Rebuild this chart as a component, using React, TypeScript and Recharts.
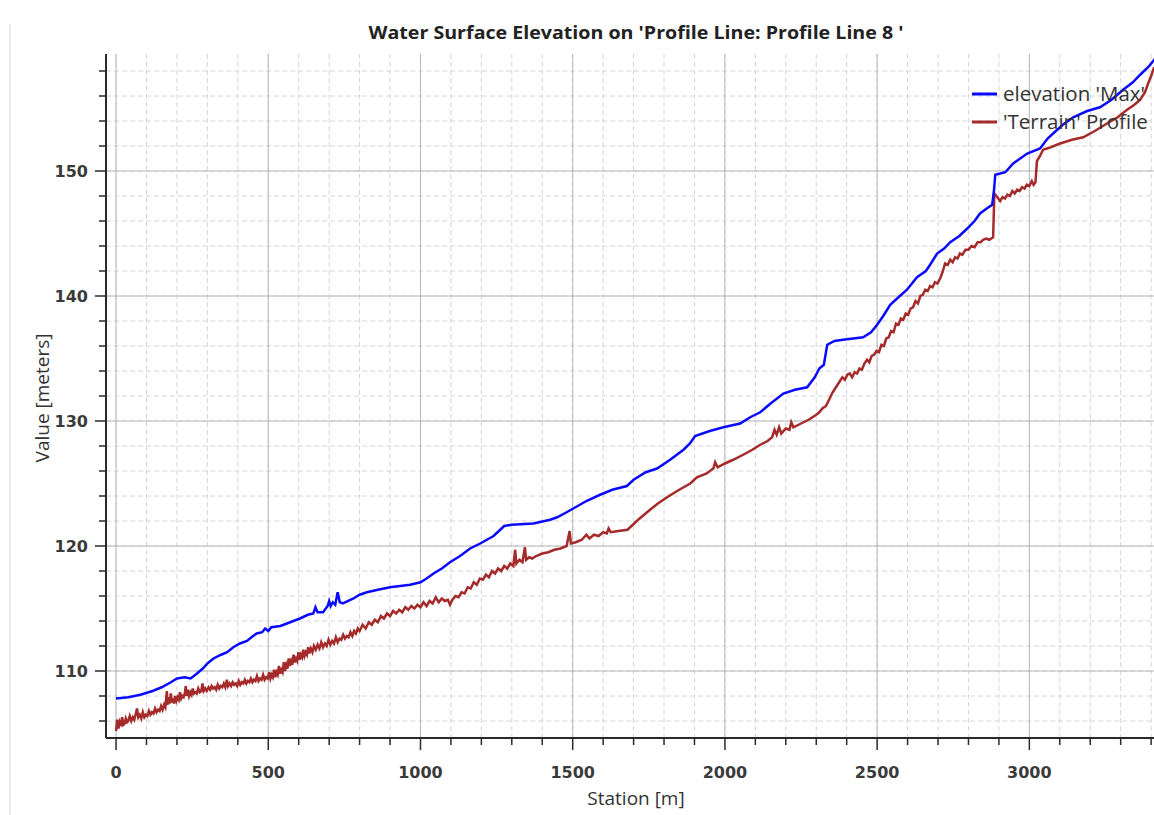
import { LineChart, Line, XAxis, YAxis, CartesianGrid } from 'recharts'

// water surface elevation (max), station [m] -> elevation [m]
const wseStations = [
  0, 40, 80, 120, 150, 180, 200, 225, 245, 266, 285, 300, 320, 345, 365, 385, 407, 430, 450, 462,
  480, 490, 500, 510, 540, 572, 604, 630, 648, 655, 662, 680, 695, 700, 705, 712, 720, 728, 735, 745,
  780, 800, 824, 860, 900, 966, 1000, 1020, 1043, 1070, 1097, 1130, 1163, 1196, 1240, 1262, 1275, 1300, 1371, 1426,
  1449, 1480, 1502, 1545, 1590, 1630, 1678, 1700, 1740, 1777, 1820, 1864, 1885, 1902, 1950, 1995, 2050, 2083, 2116, 2150,
  2192, 2230, 2270, 2295, 2310, 2325, 2336, 2360, 2388, 2454, 2480, 2500, 2520, 2543, 2570, 2598, 2631, 2660, 2674, 2697,
  2720, 2740, 2770, 2796, 2820, 2838, 2860, 2878, 2884, 2888, 2921, 2947, 2970, 2993, 3035, 3060, 3078, 3110, 3144, 3190,
  3232, 3270, 3308, 3340, 3364, 3390, 3420,
]
const wseValues = [
  107.8, 107.9, 108.1, 108.4, 108.7, 109.1, 109.4, 109.5, 109.4, 109.8, 110.2, 110.6, 111.0, 111.3, 111.5, 111.9, 112.2, 112.4, 112.8, 113.0,
  113.1, 113.4, 113.2, 113.5, 113.6, 113.9, 114.2, 114.5, 114.6, 115.1, 114.7, 114.7, 115.2, 115.6, 115.2, 115.5, 115.3, 116.3, 115.5, 115.4,
  115.8, 116.1, 116.3, 116.5, 116.7, 116.9, 117.1, 117.4, 117.8, 118.2, 118.7, 119.2, 119.8, 120.2, 120.8, 121.3, 121.6, 121.7, 121.8, 122.1,
  122.3, 122.7, 123.0, 123.6, 124.1, 124.5, 124.8, 125.3, 125.9, 126.2, 126.9, 127.7, 128.2, 128.8, 129.2, 129.5, 129.8, 130.3, 130.7, 131.4,
  132.2, 132.5, 132.7, 133.5, 134.2, 134.5, 136.1, 136.4, 136.5, 136.7, 137.1, 137.7, 138.4, 139.3, 139.9, 140.5, 141.5, 142.0, 142.5, 143.4,
  143.8, 144.3, 144.8, 145.4, 146.0, 146.6, 147.0, 147.3, 148.5, 149.7, 149.9, 150.6, 151.0, 151.4, 151.8, 152.6, 153.0, 153.7, 154.3, 154.8,
  155.1, 155.7, 156.5, 157.1, 157.7, 158.3, 159.2,
]

// terrain profile along the same line (surveyed, noisy in the lower reach)
const terrainStations = [
  0, 4, 8, 12, 16, 20, 24, 28, 32, 36, 40, 45, 50, 55, 60, 65, 69, 73, 78, 83,
  88, 93, 98, 103, 108, 113, 118, 123, 128, 133, 138, 143, 148, 153, 158, 162, 165, 167, 169, 173,
  176, 180, 183, 187, 190, 194, 198, 202, 206, 210, 214, 218, 222, 226, 229, 232, 236, 240, 244, 248,
  252, 256, 260, 265, 270, 275, 280, 284, 288, 293, 298, 304, 309, 314, 319, 324, 329, 334, 339, 344,
  349, 354, 359, 364, 368, 373, 378, 383, 388, 393, 398, 403, 408, 413, 418, 423, 428, 433, 438, 443,
  448, 453, 458, 463, 468, 473, 478, 483, 488, 493, 498, 503, 507, 511, 515, 519, 523, 527, 531, 535,
  539, 543, 547, 551, 555, 559, 563, 567, 571, 575, 579, 583, 587, 591, 595, 599, 603, 607, 611, 615,
  619, 623, 627, 631, 635, 640, 645, 650, 656, 662, 668, 674, 680, 686, 692, 698, 704, 710, 716, 722,
  728, 734, 740, 746, 752, 758, 764, 770, 776, 782, 788, 794, 800, 810, 820, 830, 840, 850, 860, 870,
  880, 890, 900, 910, 920, 930, 940, 950, 960, 970, 980, 990, 1000, 1010, 1020, 1030, 1040, 1050, 1060, 1070,
  1080, 1090, 1097, 1105, 1115, 1125, 1135, 1145, 1155, 1165, 1175, 1185, 1195, 1205, 1215, 1225, 1235, 1245, 1255, 1265,
  1275, 1285, 1295, 1305, 1311, 1315, 1325, 1335, 1343, 1347, 1357, 1367, 1380, 1400, 1420, 1440, 1460, 1480, 1490, 1494,
  1510, 1530, 1545, 1555, 1570, 1585, 1600, 1612, 1618, 1625, 1650, 1680, 1715, 1754, 1780, 1810, 1850, 1886, 1908, 1940,
  1962, 1968, 1976, 2000, 2027, 2060, 2090, 2116, 2140, 2155, 2163, 2170, 2178, 2185, 2200, 2212, 2218, 2225, 2250, 2275,
  2300, 2310, 2320, 2332, 2340, 2346, 2354, 2362, 2370, 2378, 2386, 2394, 2402, 2410, 2418, 2426, 2434, 2442, 2450, 2458,
  2467, 2474, 2482, 2490, 2498, 2506, 2514, 2522, 2530, 2538, 2546, 2554, 2562, 2570, 2578, 2586, 2594, 2602, 2610, 2618,
  2626, 2634, 2642, 2650, 2658, 2666, 2674, 2682, 2690, 2698, 2707, 2716, 2723, 2732, 2740, 2748, 2756, 2764, 2772, 2780,
  2790, 2800, 2810, 2820, 2830, 2840, 2848, 2858, 2868, 2881, 2885, 2895, 2904, 2912, 2920, 2928, 2936, 2944, 2952, 2960,
  2968, 2976, 2984, 2992, 3000, 3008, 3014, 3020, 3025, 3035, 3045, 3070, 3101, 3140, 3177, 3215, 3255, 3290, 3321, 3345,
  3364, 3380, 3390, 3400, 3410,
]
const terrainValues = [
  105.2, 106.1, 105.4, 105.9, 105.6, 106.3, 105.7, 105.8, 106.2, 105.9, 106.0, 106.4, 106.0, 106.3, 106.1, 106.6, 107.0, 106.3, 106.5, 106.2,
  106.7, 106.3, 106.5, 106.4, 106.8, 106.5, 106.7, 106.6, 107.0, 106.7, 106.9, 106.8, 107.2, 106.9, 107.3, 107.1, 107.9, 108.4, 107.3, 107.9,
  107.4, 108.2, 107.5, 107.8, 107.4, 108.0, 107.6, 107.9, 107.7, 108.3, 107.8, 108.0, 107.9, 108.2, 108.8, 108.0, 108.5, 108.0, 108.3, 108.1,
  108.6, 108.2, 108.3, 108.2, 108.6, 108.3, 108.4, 109.0, 108.4, 108.6, 108.4, 108.7, 108.5, 108.8, 108.6, 108.7, 108.5, 108.9, 108.6, 108.8,
  108.7, 109.0, 108.7, 109.3, 108.8, 109.0, 108.8, 109.1, 108.9, 109.0, 108.8, 109.2, 108.9, 109.1, 109.0, 109.3, 109.0, 109.2, 109.1, 109.4,
  109.1, 109.3, 109.2, 109.6, 109.2, 109.4, 109.3, 109.7, 109.3, 109.5, 109.4, 109.9, 109.4, 109.7, 109.5, 110.1, 109.5, 109.9, 109.7, 110.4,
  109.8, 110.1, 109.9, 110.7, 110.0, 110.5, 110.2, 111.0, 110.4, 110.8, 110.5, 111.3, 110.7, 111.0, 110.8, 111.5, 110.9, 111.3, 111.1, 111.7,
  111.2, 111.5, 111.3, 111.9, 111.4, 111.8, 111.5, 112.0, 111.7, 112.1, 111.8, 112.3, 111.9, 112.2, 112.0, 112.5, 112.1, 112.4, 112.2, 112.7,
  112.3, 112.6, 112.5, 112.9, 112.6, 112.8, 112.7, 113.1, 112.8, 113.2, 113.0, 113.4, 113.2, 113.7, 113.4, 113.9, 113.7, 114.1, 113.9, 114.4,
  114.2, 114.6, 114.4, 114.8, 114.6, 114.9, 114.7, 115.1, 114.9, 115.2, 115.0, 115.3, 115.1, 115.5, 115.2, 115.6, 115.4, 115.9, 115.5, 115.8,
  115.6, 115.7, 115.3, 115.7, 116.0, 115.9, 116.3, 116.2, 116.7, 116.6, 117.1, 116.9, 117.4, 117.3, 117.7, 117.5, 118.0, 117.8, 118.2, 118.0,
  118.4, 118.2, 118.6, 118.4, 119.7, 118.6, 118.9, 118.7, 119.9, 118.9, 119.1, 119.0, 119.2, 119.4, 119.5, 119.7, 119.8, 120.0, 121.2, 120.2,
  120.3, 120.5, 120.9, 120.6, 120.9, 120.8, 121.1, 121.0, 121.4, 121.1, 121.2, 121.3, 122.1, 122.9, 123.4, 123.9, 124.5, 125.0, 125.5, 125.8,
  126.2, 126.7, 126.3, 126.6, 126.9, 127.3, 127.7, 128.1, 128.4, 128.7, 129.3, 128.9, 129.5, 129.0, 129.4, 129.3, 129.9, 129.5, 129.8, 130.1,
  130.5, 130.7, 131.0, 131.2, 131.6, 131.9, 132.3, 132.6, 132.9, 133.2, 133.5, 133.3, 133.7, 133.8, 133.5, 133.9, 133.8, 134.2, 134.1, 134.6,
  134.9, 134.7, 135.2, 135.3, 135.6, 135.5, 136.1, 136.0, 136.6, 136.7, 137.2, 137.1, 137.8, 137.7, 138.2, 138.1, 138.6, 138.5, 139.0, 139.1,
  139.6, 139.4, 140.0, 140.1, 140.5, 140.4, 140.8, 140.7, 141.1, 141.0, 141.4, 142.0, 142.6, 142.5, 142.9, 142.7, 143.1, 143.0, 143.4, 143.3,
  143.7, 143.7, 144.0, 143.9, 144.3, 144.3, 144.5, 144.6, 144.5, 144.7, 148.2, 147.9, 147.6, 147.9, 147.8, 148.1, 148.0, 148.4, 148.2, 148.5,
  148.4, 148.7, 148.6, 148.9, 148.8, 149.2, 148.9, 149.1, 150.8, 151.2, 151.7, 151.9, 152.2, 152.5, 152.7, 153.2, 153.8, 154.3, 154.9, 155.3,
  155.7, 156.3, 157.0, 157.6, 158.3,
]

const xTicks = Array.from({ length: 35 }, (_, i) => i * 100)
const yTicks = Array.from({ length: 27 }, (_, i) => 106 + i * 2)
const xMajor = [0, 500, 1000, 1500, 2000, 2500, 3000]
const yMajor = [110, 120, 130, 140, 150]

const wseData = wseStations.map((s, i) => ({ station: s, value: wseValues[i] }))
const terrainData = terrainStations.map((s, i) => ({ station: s, value: terrainValues[i] }))

const BLUE = '#0a0aff'
const BROWN = '#a52a2a'
const AXIS = '#2a2a2a'
const LABEL_FONT = '"Open Sans", "DejaVu Sans", sans-serif'
const TICK_FONT = '"DejaVu Sans", sans-serif'

function XTick(props: any) {
  const { x, y, payload } = props
  const major = payload.value % 500 === 0
  return (
    <g>
      <line x1={x} x2={x} y1={y} y2={y + (major ? 12 : 7)} stroke={AXIS} strokeWidth={1.5} />
      {major && (
        <text x={x} y={y + 40} textAnchor="middle" fontFamily={TICK_FONT} fontSize={16} fontWeight="bold" fill="#3a3a3a">
          {payload.value}
        </text>
      )}
    </g>
  )
}

function YTick(props: any) {
  const { x, y, payload } = props
  const major = payload.value % 10 === 0
  return (
    <g>
      <line x1={x} x2={x - (major ? 11 : 7)} y1={y} y2={y} stroke={AXIS} strokeWidth={1.5} />
      {major && (
        <text x={x - 18} y={y + 6} textAnchor="end" fontFamily={TICK_FONT} fontSize={16} fontWeight="bold" fill="#3a3a3a">
          {payload.value}
        </text>
      )}
    </g>
  )
}

export default function App() {
  return (
    <div style={{ position: 'absolute', left: 0, top: 0, width: 1154, height: 815, overflow: 'hidden', background: '#fff' }}>
      <div style={{ position: 'absolute', left: 9, top: 24, width: 2, bottom: 0, background: '#ececec' }} />
      <LineChart width={1170} height={815} margin={{ top: 54, right: 0, bottom: 0, left: 0 }}>
        <CartesianGrid
          stroke="#d6d6d6"
          strokeDasharray="5 3"
          horizontalValues={yTicks}
          verticalValues={xTicks}
        />
        <CartesianGrid stroke="#b8b8b8" horizontalValues={yMajor} verticalValues={xMajor} />
        <XAxis
          type="number"
          dataKey="station"
          domain={[-33, 3462]}
          allowDataOverflow
          ticks={xTicks}
          interval={0}
          tickSize={0}
          tickMargin={0}
          tickLine={false}
          tick={<XTick />}
          height={77}
          axisLine={{ stroke: AXIS, strokeWidth: 2 }}
        />
        <XAxis
          xAxisId="top"
          orientation="top"
          type="number"
          domain={[-33, 3462]}
          height={0}
          tick={false}
          tickLine={false}
          axisLine={{ stroke: AXIS, strokeWidth: 2 }}
        />
        <YAxis
          type="number"
          domain={[104.64, 159.36]}
          allowDataOverflow
          ticks={yTicks}
          interval={0}
          tickSize={0}
          tickMargin={0}
          tickLine={false}
          tick={<YTick />}
          width={106}
          axisLine={{ stroke: AXIS, strokeWidth: 2 }}
        />
        <Line
          data={terrainData}
          dataKey="value"
          name="'Terrain' Profile"
          type="linear"
          stroke={BROWN}
          strokeWidth={2.5}
          dot={false}
          isAnimationActive={false}
        />
        <Line
          data={wseData}
          dataKey="value"
          name="elevation 'Max'"
          type="linear"
          stroke={BLUE}
          strokeWidth={2.5}
          dot={false}
          isAnimationActive={false}
        />
      </LineChart>
      <svg width={1154} height={815} style={{ position: 'absolute', left: 0, top: 0, pointerEvents: 'none' }}>
        <text x={636} y={39} textAnchor="middle" fontFamily={LABEL_FONT} fontSize={17} fontWeight="bold" fill="#222" textLength={535} lengthAdjust="spacingAndGlyphs">
          Water Surface Elevation on 'Profile Line: Profile Line 8 '
        </text>
        <text x={636} y={805} textAnchor="middle" fontFamily={LABEL_FONT} fontSize={19} fill="#333">
          Station [m]
        </text>
        <text x={49} y={398} textAnchor="middle" fontFamily={LABEL_FONT} fontSize={19} fill="#333" transform="rotate(-90 49 398)">
          Value [meters]
        </text>
        <line x1={972} x2={997} y1={94} y2={94} stroke={BLUE} strokeWidth={3} />
        <text x={1003} y={101} fontFamily={LABEL_FONT} fontSize={20.5} fill="#333">
          elevation 'Max'
        </text>
        <line x1={972} x2={997} y1={122} y2={122} stroke={BROWN} strokeWidth={3} />
        <text x={1003} y={129} fontFamily={LABEL_FONT} fontSize={20.5} fill="#333">
          'Terrain' Profile
        </text>
      </svg>
    </div>
  )
}
